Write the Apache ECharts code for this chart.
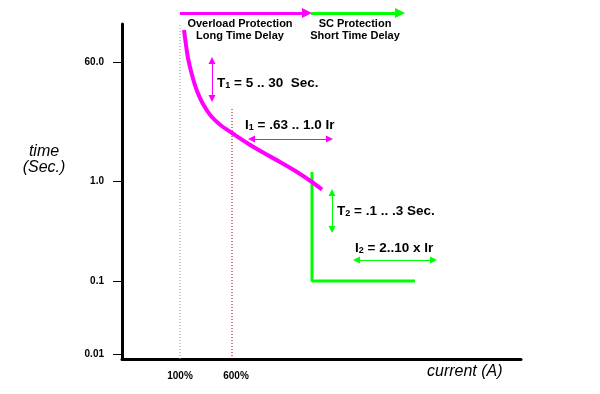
<!DOCTYPE html>
<html><head><meta charset="utf-8">
<script src="https://cdn.jsdelivr.net/npm/echarts@6.0.0/dist/echarts.min.js"></script>
<style>html,body{margin:0;padding:0;background:#fff}#c{width:600px;height:394px}</style>
</head><body><div id="c"></div>
<script>
// Schematic position units along each axis
const yTickPos = [4.5, 78, 178, 296.5];
const yTickLabels = ['0.01', '0.1', '1.0', '60.0'];
const xTickPos = [58, 114];
const xTickLabels = ['100%', '600%'];

// long-time (overload) trip curve
const longTimeCurve = [[62,329],[64,314],[66,301],[70,284],[75,268],[81,255],[89,243],[99,233.5],[110,226],[125,216],[141,206.5],[158,197],[175,187],[190,177],[200,169.5]];
// short-time (SC) trip characteristic
const shortTimeCurve = [[190,187],[190,78],[293,78]];
// reference lines (100% and 600%)
const ratedLine = [[58,334],[58,0]];
const pickupLine = [[110,250],[110,0]];
// adjustment arrows
const t1Arrow = [[90,298.5],[90,260.5]];
const i1Arrow = [[129.5,220],[207.5,220]];
const t2Arrow = [[210,166.5],[210,129.5]];
const i2Arrow = [[234.5,99],[311.5,99]];
// zone bands at top
const overloadBand = [[58,346],[185,346]];
const scBand = [[189,346],[278,346]];

const FF = 'Arial, "Liberation Sans", sans-serif';
const chart = echarts.init(document.getElementById('c'), null, {renderer:'canvas'});

function arrowSeries(coords, color, width, syms, size, clip) {
  return {
    type: 'lines', coordinateSystem: 'cartesian2d', polyline: false, silent: true,
    clip: clip !== false,
    symbol: syms, symbolSize: size,
    lineStyle: {color: color, width: width, opacity: 1, curveness: 0},
    data: coords.map(c => ({coords: c}))
  };
}

const rich = {
  b: {fontFamily: FF, fontWeight: 'bold', fontSize: 13.5, color: '#000', verticalAlign: 'bottom'},
  s: {fontFamily: FF, fontWeight: 'bold', fontSize: 9, color: '#000', verticalAlign: 'bottom'}
};

const option = {
  animation: false,
  backgroundColor: '#fff',
  grid: {left: 122, right: 79, top: 24, bottom: 35},
  xAxis: {
    type: 'value', min: 0, max: 399,
    axisLine: {show: true, onZero: false, lineStyle: {color: '#000', width: 3}},
    axisTick: {show: false}, splitLine: {show: false},
    axisLabel: {customValues: xTickPos, formatter: v => xTickLabels[xTickPos.indexOf(v)],
      fontWeight: 'bold', fontSize: 10, color: '#000', margin: 12, fontFamily: FF}
  },
  yAxis: {
    type: 'value', min: 0, max: 335,
    axisLine: {show: true, onZero: false, lineStyle: {color: '#000', width: 3}},
    axisTick: {show: true, customValues: yTickPos, length: 9, lineStyle: {color: '#000', width: 1}},
    splitLine: {show: false},
    axisLabel: {customValues: yTickPos, formatter: v => yTickLabels[yTickPos.indexOf(v)],
      fontWeight: 'bold', fontSize: 10, color: '#000', margin: 18, fontFamily: FF}
  },
  series: [
    {type: 'line', data: ratedLine, showSymbol: false, symbol: 'none', silent: true,
      lineStyle: {color: '#909090', width: 1, type: [1, 2]}},
    {type: 'line', data: pickupLine, showSymbol: false, symbol: 'none', silent: true,
      lineStyle: {color: '#a00000', width: 1, type: [1, 2]}},
    {type: 'line', data: shortTimeCurve, showSymbol: false, symbol: 'none', silent: true,
      lineStyle: {color: '#00ff00', width: 3}},
    {type: 'line', data: longTimeCurve, showSymbol: false, symbol: 'none', silent: true, smooth: 0.3,
      lineStyle: {color: '#ff00ff', width: 4}},
    arrowSeries([t1Arrow, i1Arrow], '#ff00ff', 1, ['triangle','triangle'], 7),
    arrowSeries([t2Arrow, i2Arrow], '#00ff00', 1, ['triangle','triangle'], 7),
    arrowSeries([overloadBand], '#ff00ff', 3, ['none','triangle'], 10, false),
    arrowSeries([scBand], '#00ff00', 3, ['none','triangle'], 10, false)
  ],
  graphic: [
    {type: 'text', x: 240, y: 17.5, style: {text: 'Overload Protection\nLong Time Delay', align: 'center', verticalAlign: 'top', font: 'bold 11px ' + FF, lineHeight: 12, fill: '#000'}},
    {type: 'text', x: 355, y: 17.5, style: {text: 'SC Protection\nShort Time Delay', align: 'center', verticalAlign: 'top', font: 'bold 11px ' + FF, lineHeight: 12, fill: '#000'}},
    {type: 'text', x: 44, y: 144, style: {text: 'time\n(Sec.)', align: 'center', verticalAlign: 'top', font: 'italic 16px ' + FF, lineHeight: 16, fill: '#000'}},
    {type: 'text', x: 427, y: 372, style: {text: 'current (A)', align: 'left', verticalAlign: 'middle', font: 'italic 16px ' + FF, fill: '#000'}},
    {type: 'text', x: 217, y: 83, style: {text: '{b|T}{s|1}{b| = 5 .. 30  Sec.}', align: 'left', verticalAlign: 'middle', rich: rich}},
    {type: 'text', x: 245, y: 125.5, style: {text: '{b|I}{s|1}{b| = .63 .. 1.0 Ir}', align: 'left', verticalAlign: 'middle', rich: rich}},
    {type: 'text', x: 337, y: 211, style: {text: '{b|T}{s|2}{b| = .1 .. .3 Sec.}', align: 'left', verticalAlign: 'middle', rich: rich}},
    {type: 'text', x: 355, y: 248, style: {text: '{b|I}{s|2}{b| = 2..10 x Ir}', align: 'left', verticalAlign: 'middle', rich: rich}}
  ]
};
chart.setOption(option);
</script>
</body></html>
